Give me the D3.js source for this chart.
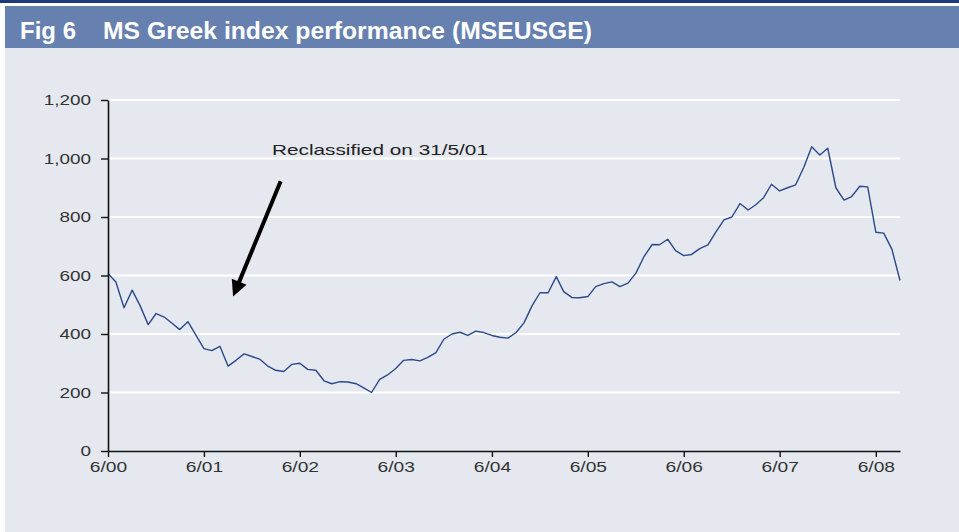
<!DOCTYPE html>
<html>
<head>
<meta charset="utf-8">
<script src="https://cdn.jsdelivr.net/npm/d3@7"></script>
<style>
  html, body { margin: 0; padding: 0; background: #fff; }
  text { font-family: "Liberation Sans", Arial, sans-serif; }
</style>
</head>
<body>
<svg id="chart" width="959" height="532"></svg>
<script>
// monthly index level, 6/00 .. 9/08
var startMonth = "2000-06-01";
var endMonth = "2008-09-01";
var values = [
  607, 578, 490, 550, 497, 432, 470, 458, 436, 415, 442, 397,
  350, 343, 358, 290, 310, 332, 323, 313, 289, 276, 272, 296,
  300, 279, 276, 240, 230, 237, 236, 230, 215, 200, 245, 260,
  282, 310, 313, 308, 320, 336, 382, 400, 406, 395, 410, 405,
  395, 389, 386, 405, 438, 497, 541, 541, 596, 545, 525, 524,
  528, 562, 572, 578, 562, 574, 608, 665, 706, 705, 724, 685,
  668, 672, 692, 705, 748, 790, 800, 846, 824, 841, 866, 912,
  889, 900, 910, 970, 1040, 1012, 1035, 900, 858, 870, 905, 903,
  748, 745, 690, 583
];
var tickDates = ["2000-06-01", "2001-06-01", "2002-06-01", "2003-06-01", "2004-06-01",
                 "2005-06-01", "2006-06-01", "2007-06-01", "2008-06-01"];
var tickLabels = ["6/00", "6/01", "6/02", "6/03", "6/04", "6/05", "6/06", "6/07", "6/08"];
var yTicks = [0, 200, 400, 600, 800, 1000, 1200];

var title = "Fig 6", subtitle = "MS Greek index performance (MSEUSGE)";
// annotation placed in data terms: [month, value]
var noteText = "Reclassified on 31/5/01";
var noteAt = ["2002-02-15", 1012];
var arrowFrom = ["2002-03-20", 922];
var arrowTo = ["2001-09-20", 528];

var W = 959, H = 532;
var margin = { left: 108, right: 59, top: 100, bottom: 81 };
var parse = d3.utcParse("%Y-%m-%d");
var start = parse(startMonth);
var dates = values.map(function (v, i) { return d3.utcMonth.offset(start, i); });

var svg = d3.select("#chart");

// stretch text horizontally like the source image
function stretch(sel, k) {
  sel.each(function () {
    var len = this.getComputedTextLength();
    d3.select(this).attr("textLength", len * k).attr("lengthAdjust", "spacingAndGlyphs");
  });
}

// backgrounds
svg.append("rect").attr("x", 0).attr("y", 0).attr("width", W).attr("height", H).attr("fill", "#ffffff");
svg.append("rect").attr("x", 5).attr("y", 48).attr("width", W - 5).attr("height", H - 48).attr("fill", "#e5e8ee");
svg.append("rect").attr("x", 0).attr("y", 0).attr("width", W).attr("height", 3).attr("fill", "#1d3b7c");
svg.append("rect").attr("x", 5).attr("y", 6).attr("width", W - 5).attr("height", 42).attr("fill", "#6680b0");

svg.append("text").attr("x", 20).attr("y", 39)
  .attr("fill", "#fff").attr("font-size", 23).attr("font-weight", "bold")
  .text(title)
  .attr("textLength", 56).attr("lengthAdjust", "spacingAndGlyphs");
svg.append("text").attr("x", 103).attr("y", 39)
  .attr("fill", "#fff").attr("font-size", 23).attr("font-weight", "bold")
  .text(subtitle)
  .attr("textLength", 489).attr("lengthAdjust", "spacingAndGlyphs");

var x = d3.scaleUtc()
  .domain([start, parse(endMonth)])
  .range([margin.left, W - margin.right]);
var y = d3.scaleLinear()
  .domain([0, 1200])
  .range([H - margin.bottom, margin.top]);

// gridlines
svg.append("g").selectAll("line")
  .data(yTicks.filter(function (d) { return d > 0; }))
  .enter().append("line")
  .attr("x1", x.range()[0]).attr("x2", x.range()[1])
  .attr("y1", function (d) { return y(d); })
  .attr("y2", function (d) { return y(d); })
  .attr("stroke", "#ffffff").attr("stroke-width", 2);

// series
var line = d3.line()
  .x(function (d, i) { return x(dates[i]); })
  .y(function (d) { return y(d); });
svg.append("path")
  .datum(values)
  .attr("fill", "none")
  .attr("stroke", "#2b4a8b")
  .attr("stroke-width", 1.4)
  .attr("stroke-linejoin", "round")
  .attr("d", line);

// axes
var yAxis = d3.axisLeft(y).tickValues(yTicks).tickFormat(d3.format(","))
  .tickSize(7).tickSizeOuter(0).tickPadding(10);
var gy = svg.append("g").attr("transform", "translate(" + margin.left + ",0)").call(yAxis);

var xAxis = d3.axisBottom(x).tickValues(tickDates.map(parse))
  .tickFormat(function (d, i) { return tickLabels[i]; })
  .tickSize(6).tickSizeOuter(0).tickPadding(4);
var gx = svg.append("g").attr("transform", "translate(0," + (H - margin.bottom) + ")").call(xAxis);

[gx, gy].forEach(function (g) {
  g.select(".domain").attr("stroke", "#111").attr("stroke-width", 1.6);
  g.selectAll(".tick line").attr("stroke", "#111").attr("stroke-width", 1.4);
  g.selectAll(".tick text")
    .attr("fill", "#333")
    .attr("font-size", 15)
    .attr("font-family", "'Liberation Sans', Arial, sans-serif");
});
stretch(gy.selectAll(".tick text"), 1.26);
stretch(gx.selectAll(".tick text"), 1.28);

// annotation
svg.append("text")
  .attr("x", x(parse(noteAt[0]))).attr("y", y(noteAt[1]))
  .attr("fill", "#222").attr("font-size", 15)
  .text(noteText)
  .attr("textLength", 216).attr("lengthAdjust", "spacingAndGlyphs");

var p0 = [x(parse(arrowFrom[0])), y(arrowFrom[1])];
var p1 = [x(parse(arrowTo[0])), y(arrowTo[1])];
var dx = p1[0] - p0[0], dy = p1[1] - p0[1], L = Math.sqrt(dx * dx + dy * dy);
var ux = dx / L, uy = dy / L, head = 16, half = 8;
var base = [p1[0] - ux * head, p1[1] - uy * head];
svg.append("line")
  .attr("x1", p0[0]).attr("y1", p0[1])
  .attr("x2", base[0] + ux * 2).attr("y2", base[1] + uy * 2)
  .attr("stroke", "#000").attr("stroke-width", 4);
svg.append("path")
  .attr("d", "M" + p1[0] + "," + p1[1] +
    "L" + (base[0] - uy * half) + "," + (base[1] + ux * half) +
    "L" + (base[0] + uy * half) + "," + (base[1] - ux * half) + "Z")
  .attr("fill", "#000");
</script>
</body>
</html>
